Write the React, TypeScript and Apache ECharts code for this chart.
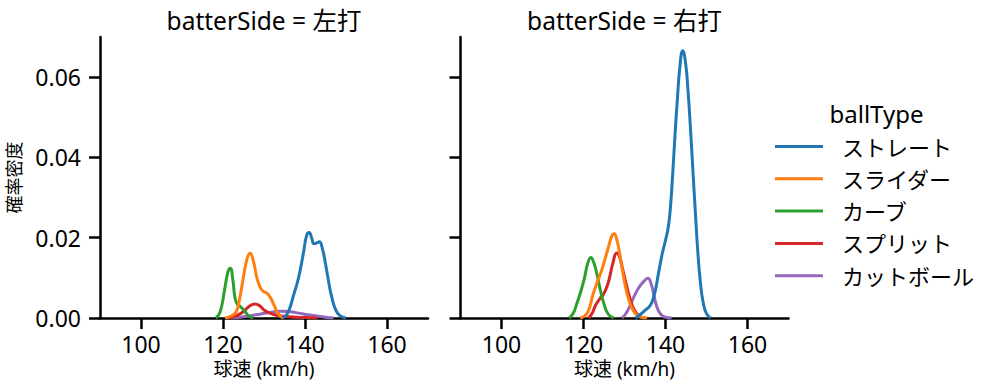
import React, { useEffect, useRef } from "react";
import * as echarts from "echarts";

const ballTypes = ["ストレート", "スライダー", "カーブ", "スプリット", "カットボール"];
const colors = ["#1f77b4", "#ff7f0e", "#2ca02c", "#d62728", "#9467bd"];
const panelTitles = ["batterSide = 左打", "batterSide = 右打"];
const xTicks = [100, 120, 140, 160];
const yTicks = [0, 0.02, 0.04, 0.06];

// 左打
const leftStraight = [[134.5,0],[135.5,0.0008],[136.3,0.0025],[137.1,0.0053],[138.4,0.0099],[139.6,0.0161],[140.4,0.0206],[141,0.0213],[141.6,0.02],[142.2,0.0185],[142.9,0.0187],[143.5,0.019],[144.3,0.017],[145,0.0135],[145.7,0.0094],[146.5,0.0053],[147.5,0.002],[148.5,0.0006],[150,0]];
const leftSlider = [[120.5,0],[122,0.0005],[123.2,0.0015],[124,0.0045],[125,0.0103],[125.8,0.0145],[126.6,0.0161],[127.4,0.0142],[128.2,0.0103],[129,0.0078],[129.8,0.0066],[130.7,0.0062],[131.5,0.0052],[132.5,0.0031],[133.5,0.001],[134.8,0]];
const leftCurve = [[118.3,0],[119.3,0.0015],[120.3,0.0065],[121.2,0.0115],[121.8,0.0124],[122.4,0.0095],[122.9,0.0052],[123.5,0.0034],[124.3,0.0028],[125.2,0.0018],[126.2,0.0006],[127.3,0]];
const leftSplit = [[121,0],[123,0.0004],[125,0.0016],[126.5,0.003],[127.8,0.0035],[129,0.003],[130,0.002],[131.5,0.0012],[133,0.0007],[136,0.0003],[140,0.0001],[143,0]];
const leftCutter = [[122,0],[125,0.0003],[128,0.0008],[131,0.0013],[134,0.0017],[136,0.0016],[139,0.0011],[142,0.0006],[145,0.0002],[147,0]];

// 右打
const rightStraight = [[132.7,0],[134,0.001],[135.1,0.002],[136.2,0.003],[136.9,0.0045],[137.6,0.0072],[138.3,0.0112],[139.2,0.016],[140.1,0.0198],[140.7,0.0228],[141.2,0.0275],[141.7,0.035],[142.3,0.0452],[142.9,0.0545],[143.5,0.0625],[144.2,0.0666],[144.9,0.0635],[145.5,0.0565],[146.1,0.047],[146.7,0.0365],[147.3,0.026],[147.9,0.0162],[148.5,0.009],[149.2,0.0038],[150,0.0011],[151,0]];
const rightSlider = [[119.2,0],[120.3,0.0005],[121.2,0.0018],[122.3,0.0058],[123.3,0.0088],[124.3,0.0115],[125.2,0.0145],[126.1,0.0177],[126.9,0.0204],[127.5,0.021],[128.1,0.0196],[128.8,0.0162],[129.6,0.0112],[130.5,0.0066],[131.4,0.0035],[132.5,0.0013],[133.8,0.0003],[135.5,0]];
const rightCurve = [[116.5,0],[117.5,0.0012],[118.4,0.0037],[119.4,0.0068],[120.2,0.0098],[121,0.0135],[121.8,0.0151],[122.5,0.0138],[123.3,0.0108],[124.1,0.007],[125,0.0035],[126,0.001],[127.3,0]];
const rightSplit = [[121.2,0],[122.1,0.0012],[123,0.0033],[124,0.0048],[124.9,0.006],[125.6,0.0075],[126.3,0.0098],[127.2,0.0138],[128.1,0.0162],[128.8,0.0152],[129.5,0.0124],[130.4,0.0085],[131.3,0.005],[132.3,0.0022],[133.5,0.0006],[135,0]];
const rightCutter = [[129.4,0],[130.4,0.0012],[131.4,0.0032],[132.4,0.0055],[133.4,0.0074],[134.6,0.009],[135.7,0.0099],[136.5,0.0085],[137.2,0.0055],[138,0.0025],[138.9,0.0009],[140,0.0002],[141.5,0]];

const leftData = [leftStraight, leftSlider, leftCurve, leftSplit, leftCutter];
const rightData = [rightStraight, rightSlider, rightCurve, rightSplit, rightCutter];

const FONT = "'Noto Sans', 'Noto Sans CJK JP', sans-serif";

export default function App() {
  const ref = useRef<HTMLDivElement>(null);
  useEffect(() => {
    if (!ref.current) return;
    const chart = echarts.init(ref.current, null, { renderer: "svg" });
    const grids = [
      { left: 100, top: 37, width: 328, height: 281 },
      { left: 460.5, top: 37, width: 328, height: 281 },
    ];
    const xAxes = grids.map((_, i) => ({
      type: "value",
      gridIndex: i,
      min: 90,
      max: 170,
      name: "球速 (km/h)",
      nameLocation: "middle",
      nameGap: 41,
      nameTextStyle: { fontSize: 19, color: "#000", fontFamily: FONT },
      axisLine: { show: true, lineStyle: { color: "#000", width: 2.5 } },
      axisTick: { show: true, length: 11, lineStyle: { color: "#000", width: 2.5 }, customValues: xTicks },
      axisLabel: { show: true, margin: 14, fontSize: 23, color: "#000", fontFamily: FONT, customValues: xTicks },
      splitLine: { show: false },
    }));
    const yAxes = grids.map((_, i) => ({
      type: "value",
      gridIndex: i,
      min: 0,
      max: 0.07,
      name: i === 0 ? "確率密度" : "",
      nameLocation: "middle",
      nameGap: 77,
      nameTextStyle: { fontSize: 18, color: "#000", fontFamily: FONT },
      axisLine: { show: true, lineStyle: { color: "#000", width: 2.5 } },
      axisTick: { show: true, length: 11, lineStyle: { color: "#000", width: 2.5 }, customValues: yTicks },
      axisLabel: {
        show: i === 0,
        margin: 19,
        fontSize: 23,
        color: "#000",
        fontFamily: FONT,
        customValues: yTicks,
        formatter: (v: number) => v.toFixed(2),
      },
      splitLine: { show: false },
    }));
    const series: any[] = [];
    [leftData, rightData].forEach((panel, gi) => {
      panel.forEach((d, k) => {
        series.push({
          type: "line",
          name: ballTypes[k],
          xAxisIndex: gi,
          yAxisIndex: gi,
          data: d,
          smooth: 0.5,
          showSymbol: false,
          symbol: "none",
          clip: true,
          lineStyle: { width: 3, color: colors[k] },
          itemStyle: { color: colors[k] },
          z: 10 - k,
        });
      });
    });
    chart.setOption({
      animation: false,
      color: colors,
      textStyle: { fontFamily: FONT },
      grid: grids,
      xAxis: xAxes,
      yAxis: yAxes,
      series,
      legend: {
        orient: "vertical",
        left: 775,
        top: 135.5,
        padding: 0,
        itemWidth: 48,
        itemHeight: 3,
        itemGap: 10.3,
        icon: "rect",
        selectedMode: false,
        data: ballTypes,
        textStyle: { fontSize: 22, color: "#000", fontFamily: FONT, padding: [0, 0, 0, 14] },
      },
      graphic: [
        { type: "text", x: 264, y: 20, style: { text: panelTitles[0], textAlign: "center", textVerticalAlign: "middle", fontSize: 24.5, fill: "#000", fontFamily: FONT } },
        { type: "text", x: 624.5, y: 20, style: { text: panelTitles[1], textAlign: "center", textVerticalAlign: "middle", fontSize: 24.5, fill: "#000", fontFamily: FONT } },
        { type: "text", x: 876.5, y: 113, style: { text: "ballType", textAlign: "center", textVerticalAlign: "middle", fontSize: 24, fill: "#000", fontFamily: FONT } },
      ],
    });
    return () => chart.dispose();
  }, []);
  return <div ref={ref} style={{ position: "fixed", left: 0, top: 0, width: 997, height: 391, background: "#fff" }} />;
}
